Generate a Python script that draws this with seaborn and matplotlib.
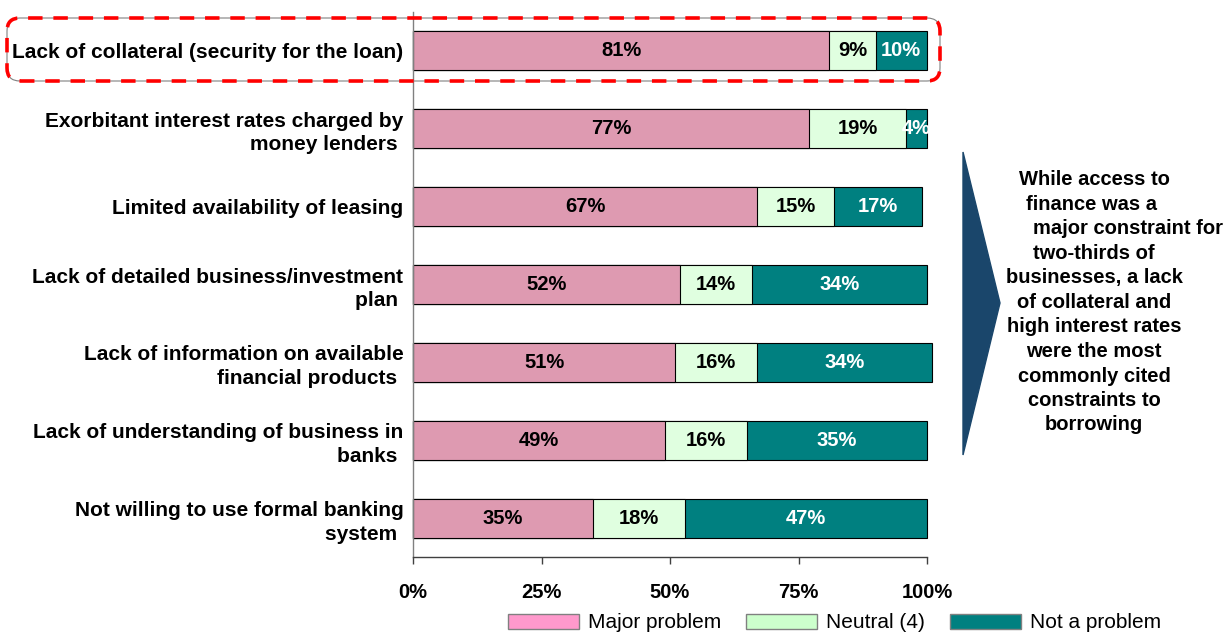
import numpy as np
import pandas as pd
import matplotlib
matplotlib.use("Agg")
import matplotlib.pyplot as plt
import seaborn as sns
from matplotlib.patches import FancyBboxPatch, Polygon, Patch

# =========================
# DATA
# =========================
categories = [
    "Lack of collateral (security for the loan)",
    "Exorbitant interest rates charged by\nmoney lenders ",
    "Limited availability of leasing",
    "Lack of detailed business/investment\nplan ",
    "Lack of information on available\nfinancial products ",
    "Lack of understanding of business in\nbanks ",
    "Not willing to use formal banking\nsystem ",
]
major = [81, 77, 67, 52, 51, 49, 35]
neutral = [9, 19, 15, 14, 16, 16, 18]
not_problem = [10, 4, 17, 34, 34, 35, 47]

x_ticks = [0, 25, 50, 75, 100]
series_names = ["Major problem", "Neutral (4)", "Not a problem"]

note_lines = [
    "While access to",
    "finance was a ",
    "major constraint for",
    "two-thirds of",
    "businesses, a lack",
    "of collateral and",
    "high interest rates",
    "were the most",
    "commonly cited",
    "constraints to",
    "borrowing",
]

# couleurs
pink_bar = "#DE9AB1"
green_bar = "#E0FFE0"
teal_bar = "#008080"
legend_colors = ["#FF99CC", "#CCFFCC", "#008080"]
arrow_color = "#1A466B"

sns.set_theme(style="white")
plt.rcParams["font.family"] = ["Liberation Sans", "DejaVu Sans"]
plt.rcParams["text.color"] = "black"
plt.rcParams["xtick.color"] = "black"
plt.rcParams["ytick.color"] = "black"

df = pd.DataFrame({"item": categories, "major": major, "neutral": neutral, "not": not_problem})
df["cum_major"] = df["major"]
df["cum_neutral"] = df["major"] + df["neutral"]
df["cum_total"] = df["cum_neutral"] + df["not"]

W, H = 1231, 638
fig = plt.figure(figsize=(W / 100, H / 100), dpi=100)
ax = fig.add_axes([413 / W, 81 / H, 514 / W, 545 / H])

# barres empilées : on dessine les cumuls du plus long au plus court
for col, color in [("cum_total", teal_bar), ("cum_neutral", green_bar), ("cum_major", pink_bar)]:
    sns.barplot(data=df, y="item", x=col, orient="h", color=color, saturation=1,
                width=0.5, errorbar=None, edgecolor="black", linewidth=0.8, ax=ax)

for p in ax.patches:
    p.set_clip_on(False)

ax.set_xlim(0, 100)
ax.set_ylim(6.5, -0.5)
ax.set_xlabel("")
ax.set_ylabel("")

# étiquettes des segments
lab_kw = dict(ha="center", va="center", fontsize=14.5, fontweight="bold")
for i, row in df.iterrows():
    ax.text(row["major"] / 2, i, f"{row['major']}%", color="black", **lab_kw)
    ax.text(row["cum_major"] + row["neutral"] / 2, i, f"{row['neutral']}%", color="black", **lab_kw)
    ax.text(row["cum_neutral"] + row["not"] / 2, i, f"{row['not']}%", color="white", clip_on=False, **lab_kw)

# axes
for s in ["top", "right"]:
    ax.spines[s].set_visible(False)
ax.spines["left"].set_color("#808080")
ax.spines["left"].set_linewidth(1)
ax.spines["bottom"].set_color("#404040")
ax.spines["bottom"].set_linewidth(1)

ax.set_xticks(x_ticks)
ax.set_xticklabels([f"{t}%" for t in x_ticks], fontsize=14.5, fontweight="bold")
ax.tick_params(axis="x", bottom=True, direction="out", length=5, width=1, color="#404040", pad=14)
ax.set_yticks(range(len(categories)))
ax.set_yticklabels(categories, fontsize=15, fontweight="bold")
for t in ax.get_yticklabels():
    t.set_linespacing(1.3)
ax.tick_params(axis="y", left=False, length=0, pad=7)

# cadre rouge en pointillés autour de la première ligne
box_kw = dict(boxstyle="round,pad=0,rounding_size=0.13", transform=fig.dpi_scale_trans,
              facecolor="none", clip_on=False)
x0, y0, bw, bh = 0.07, (H - 81) / 100, (940 - 7) / 100, 0.63
fig.patches.append(FancyBboxPatch((x0, y0), bw, bh, edgecolor="#808080", linewidth=0.8, **box_kw))
fig.patches.append(FancyBboxPatch((x0, y0), bw, bh, edgecolor="#FF0000", linewidth=2.6,
                                  linestyle=(0, (4, 3)), **box_kw))

# flèche / chevron à droite
chevron = Polygon([(9.63, (H - 152) / 100), (10.00, (H - 303) / 100), (9.63, (H - 455) / 100)],
                  closed=True, facecolor=arrow_color, edgecolor=arrow_color,
                  transform=fig.dpi_scale_trans)
fig.patches.append(chevron)

# texte de commentaire
for k, line in enumerate(note_lines):
    xc = 1128 if k == 2 else 1094
    fig.text(xc / W, 1 - (180 + 24.5 * k) / H, line, ha="center", va="center",
             fontsize=14.5, fontweight="bold", color="black")

# légende (légèrement remontée pour ne pas être coupée)
handles = [Patch(facecolor=c, edgecolor="#808080", label=n) for c, n in zip(legend_colors, series_names)]
fig.legend(handles=handles, loc="center", bbox_to_anchor=(0.678, 15 / H), ncol=3, frameon=False,
           fontsize=15, handlelength=3.4, handleheight=0.7, handletextpad=0.45,
           columnspacing=1.2, borderpad=0, borderaxespad=0)

fig.savefig("out.png", dpi=100)
plt.close()
